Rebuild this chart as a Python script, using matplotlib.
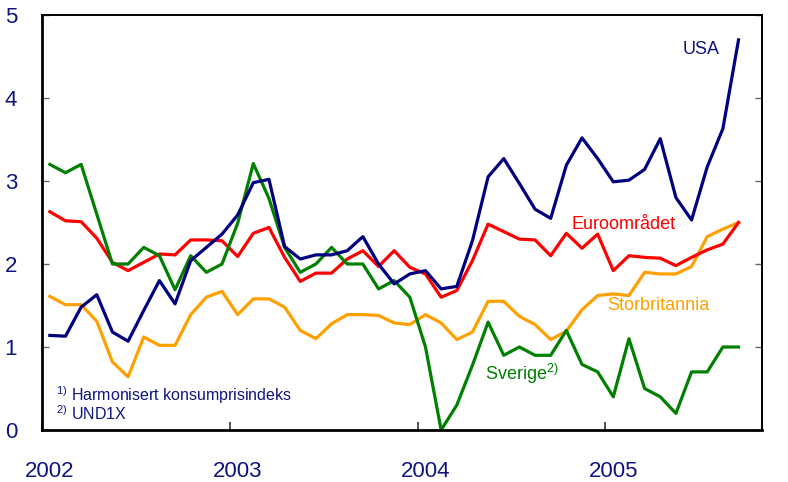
import matplotlib
matplotlib.use("Agg")
import matplotlib.pyplot as plt
import numpy as np

plt.rcParams['font.family'] = ['Liberation Sans', 'DejaVu Sans']
plt.rcParams['mathtext.fontset'] = 'custom'
plt.rcParams['mathtext.rm'] = 'Liberation Sans'
plt.rcParams['mathtext.it'] = 'Liberation Sans'

# monthly data, Jan 2002 - Sep 2005
usa = [1.14, 1.13, 1.48, 1.63, 1.18, 1.07, 1.44, 1.80, 1.52, 2.04, 2.20, 2.36,
       2.59, 2.98, 3.02, 2.21, 2.06, 2.11, 2.11, 2.16, 2.33, 2.00, 1.76, 1.88,
       1.92, 1.70, 1.73, 2.28, 3.05, 3.27, 2.97, 2.66, 2.55, 3.19, 3.52, 3.27,
       2.99, 3.01, 3.14, 3.51, 2.80, 2.53, 3.17, 3.63, 4.70]
euro = [2.63, 2.52, 2.51, 2.31, 2.02, 1.92, 2.02, 2.12, 2.11, 2.29, 2.29, 2.28,
        2.09, 2.37, 2.44, 2.08, 1.79, 1.89, 1.89, 2.06, 2.16, 1.97, 2.16, 1.96,
        1.88, 1.60, 1.68, 2.04, 2.48, 2.39, 2.30, 2.29, 2.10, 2.37, 2.19, 2.36,
        1.92, 2.10, 2.08, 2.07, 1.98, 2.08, 2.17, 2.24, 2.50]
uk = [1.61, 1.51, 1.51, 1.31, 0.82, 0.64, 1.12, 1.02, 1.02, 1.39, 1.60, 1.67,
      1.39, 1.58, 1.58, 1.48, 1.20, 1.10, 1.28, 1.39, 1.39, 1.38, 1.29, 1.27,
      1.39, 1.29, 1.09, 1.18, 1.55, 1.55, 1.37, 1.27, 1.09, 1.19, 1.45, 1.62,
      1.64, 1.62, 1.90, 1.88, 1.88, 1.97, 2.33, 2.42, 2.50]
sverige = [3.20, 3.10, 3.20, 2.60, 2.00, 2.00, 2.20, 2.10, 1.69, 2.10, 1.90, 2.00,
           2.49, 3.21, 2.79, 2.20, 1.90, 2.00, 2.20, 2.00, 2.00, 1.70, 1.80, 1.60,
           1.00, 0.00, 0.30, 0.78, 1.30, 0.90, 1.00, 0.90, 0.90, 1.20, 0.79, 0.70,
           0.40, 1.10, 0.50, 0.40, 0.20, 0.70, 0.70, 1.00, 1.00]
years = ['2002', '2003', '2004', '2005']

navy = '#0f1480'
x = np.arange(len(usa)) + 0.5

fig = plt.figure(figsize=(7.88, 4.82), dpi=100)
ax = fig.add_axes([42/788, 1-430/482, 720/788, 415/482])

ax.plot(x, uk, color='#ffa000', lw=2.3)
ax.plot(x, euro, color='#ff0000', lw=2.3)
ax.plot(x, sverige, color='#008000', lw=2.3)
ax.plot(x, usa, color='#000080', lw=2.3)

ax.set_xlim(0, 46)
ax.set_ylim(0, 5)

ax.set_xticks([0, 12, 24, 36])
ax.set_xticklabels([])
ax.set_xticks([0.5, 12.5, 24.5, 36.5], minor=True)
ax.set_xticklabels(years, minor=True)
ax.tick_params(axis='x', which='major', direction='in', length=6, width=1.2, color='#333333')
ax.tick_params(axis='x', which='minor', length=0, pad=22, labelsize=16, labelcolor=navy)

ax.set_yticks([0, 1, 2, 3, 4, 5])
ax.tick_params(axis='y', direction='in', length=5, width=1, color='#666666',
               pad=18, labelsize=16, labelcolor=navy, right=True, labelright=True)

for s in ['left', 'bottom']:
    ax.spines[s].set_linewidth(2)
for s in ['top', 'right']:
    ax.spines[s].set_linewidth(1.4)

ax.text(43.3, 4.59, 'USA', color=navy, fontsize=13, ha='right', va='center')
ax.text(33.8, 2.48, 'Euroområdet', color='#ff0000', fontsize=13, ha='left', va='center')
ax.text(36.1, 1.5, 'Storbritannia', color='#ffa000', fontsize=13, ha='left', va='center')
ax.text(28.3, 0.67, r'Sverige$^{\mathrm{2)}}$', color='#008000', fontsize=13, ha='left', va='center')

ax.text(0.9, 0.42, r'$^{\mathrm{1)}}$ Harmonisert konsumprisindeks', color=navy, fontsize=11.5,
        ha='left', va='center')
ax.text(0.9, 0.2, r'$^{\mathrm{2)}}$ UND1X', color=navy, fontsize=11.5, ha='left', va='center')

fig.savefig('out.png', dpi=100)
